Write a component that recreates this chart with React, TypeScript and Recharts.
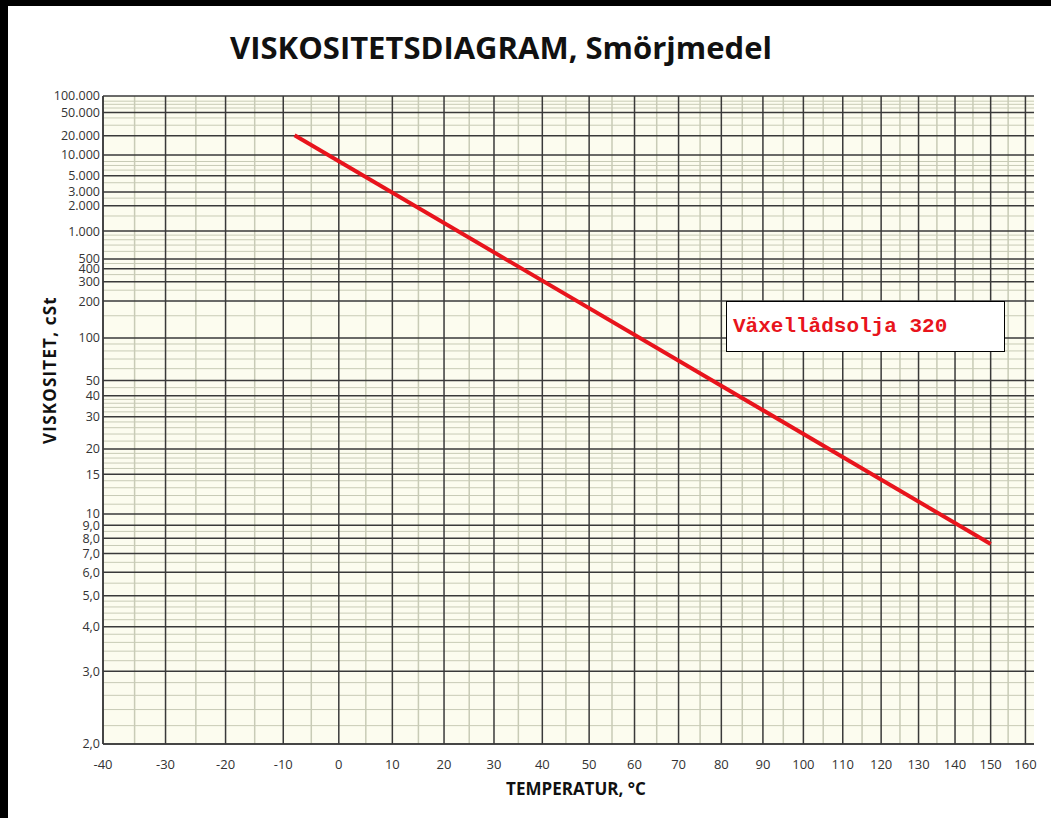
import React from "react";
import {
  LineChart,
  Line,
  XAxis,
  YAxis,
  CartesianGrid,
  ReferenceLine,
} from "recharts";

// Temperature axis (°C) - chart uses log of absolute temperature
const tempTicks = [-40, -30, -20, -10, 0, 10, 20, 30, 40, 50, 60, 70, 80, 90, 100, 110, 120, 130, 140, 150, 160];
const tempMinor = [-35, -25, -15, -5, 5, 15, 25, 35, 45, 55, 65, 75, 85, 95, 105, 115, 125, 135, 145, 155];
const tempMin = -40;
const tempMax = 162.5;

// Viscosity axis (cSt) - Walther scale log(log(v + 0.7))
const viscTicks = [100000, 50000, 20000, 10000, 5000, 3000, 2000, 1000, 500, 400, 300, 200, 100, 50, 40, 30, 20, 15, 10, 9, 8, 7, 6, 5, 4, 3, 2];
const viscTickLabels = ["100.000", "50.000", "20.000", "10.000", "5.000", "3.000", "2.000", "1.000", "500", "400", "300", "200", "100", "50", "40", "30", "20", "15", "10", "9,0", "8,0", "7,0", "6,0", "5,0", "4,0", "3,0", "2,0"];
const viscMinor = [
  2.2, 2.4, 2.6, 2.8, 3.2, 3.4, 3.6, 3.8, 4.2, 4.4, 4.6, 4.8, 5.5, 6.5, 7.5, 8.5,
  11, 12, 13, 14, 16, 17, 18, 19, 22, 24, 26, 28, 32, 34, 36, 38, 45,
  60, 70, 80, 90, 150, 250, 350, 450, 600, 700, 800, 900,
  1500, 2500, 4000, 6000, 7000, 8000, 30000, 40000, 60000, 70000, 80000,
];
const viscMin = 2;
const viscMax = 100000;

// Växellådsolja 320
const oilName = "Växellådsolja 320";
const oilTemps = [-8, 150];
const oilVisc = [20500, 7.6];

const tx = (t: number) => Math.log10(t + 273.15);
const ty = (v: number) => Math.log10(Math.log10(v + 0.7));

const data = oilTemps.map((t, i) => ({ x: tx(t), y: ty(oilVisc[i]) }));

const fmtTemp = (v: number) => String(Math.round(Math.pow(10, v) - 273.15));
const fmtVisc = (v: number) => {
  const i = viscTicks.findIndex((k) => Math.abs(ty(k) - v) < 1e-9);
  return i >= 0 ? viscTickLabels[i] : "";
};

const MINOR = "#c8cbb6";
const MAJOR = "#3a3a3a";
const FONT = "'Open Sans', 'Noto Sans', sans-serif";

export default function App() {
  return (
    <div style={{ position: "absolute", left: 0, top: 0, width: 1051, height: 818, background: "#000" }}>
      <div style={{ position: "absolute", left: 8, top: 6, width: 1043, height: 812, background: "#fff", fontFamily: FONT }}>
        <div
          style={{
            position: "absolute",
            left: 0,
            width: 986,
            top: 20,
            textAlign: "center",
            fontSize: 31,
            fontWeight: 700,
            color: "#111",
          }}
        >
          VISKOSITETSDIAGRAM, Smörjmedel
        </div>
        <div
          style={{
            position: "absolute",
            left: 41,
            top: 364,
            transform: "translate(-50%, -50%) rotate(-90deg)",
            whiteSpace: "nowrap",
            fontSize: 17,
            letterSpacing: 1.2,
            fontWeight: 700,
            color: "#111",
          }}
        >
          VISKOSITET, cSt
        </div>
        <div
          style={{
            position: "absolute",
            left: 568,
            top: 782,
            transform: "translate(-50%, -50%)",
            whiteSpace: "nowrap",
            fontSize: 17,
            fontWeight: 700,
            color: "#111",
          }}
        >
          TEMPERATUR, °C
        </div>
        <LineChart
          width={1043}
          height={812}
          data={data}
          margin={{ top: 90, right: 17, bottom: 44, left: 35 }}
        >
          <CartesianGrid fill="#fcfcef" horizontal={false} vertical={false} />
          <XAxis
            type="number"
            dataKey="x"
            domain={[tx(tempMin), tx(tempMax)]}
            ticks={tempTicks.map(tx)}
            tickFormatter={fmtTemp}
            interval={0}
            allowDataOverflow
            height={30}
            tickLine={false}
            tickSize={0}
            tickMargin={16}
            axisLine={{ stroke: MAJOR, strokeWidth: 1.5 }}
            tick={{ fill: "#333", fontSize: 13, fontFamily: FONT }}
          />
          <YAxis
            type="number"
            dataKey="y"
            domain={[ty(viscMin), ty(viscMax)]}
            ticks={viscTicks.map(ty)}
            tickFormatter={fmtVisc}
            interval={0}
            allowDataOverflow
            width={60}
            tickLine={false}
            tickSize={0}
            tickMargin={3}
            axisLine={{ stroke: MAJOR, strokeWidth: 1.5 }}
            tick={{ fill: "#333", fontSize: 12.5, fontFamily: FONT }}
          />
          {viscMinor.map((v) => (
            <ReferenceLine key={"hm" + v} y={ty(v)} stroke={MINOR} strokeWidth={1} />
          ))}
          {tempMinor.map((t) => (
            <ReferenceLine key={"vm" + t} x={tx(t)} stroke={MINOR} strokeWidth={1.5} />
          ))}
          {viscTicks.map((v) => (
            <ReferenceLine key={"hM" + v} y={ty(v)} stroke={MAJOR} strokeWidth={1.5} />
          ))}
          {tempTicks.map((t) => (
            <ReferenceLine key={"vM" + t} x={tx(t)} stroke={MAJOR} strokeWidth={1.5} />
          ))}
          <Line
            type="linear"
            dataKey="y"
            name={oilName}
            stroke="#e8141c"
            strokeWidth={4}
            dot={false}
            isAnimationActive={false}
          />
        </LineChart>
        <div
          style={{
            position: "absolute",
            left: 718,
            top: 295,
            width: 279,
            height: 51,
            background: "#fff",
            border: "1px solid #000",
            boxSizing: "border-box",
            display: "flex",
            alignItems: "center",
            paddingLeft: 6,
            fontFamily: "'Liberation Mono', 'Courier New', monospace",
            fontWeight: 700,
            fontSize: 21,
            color: "#e8141c",
          }}
        >
          {oilName}
        </div>
      </div>
    </div>
  );
}
